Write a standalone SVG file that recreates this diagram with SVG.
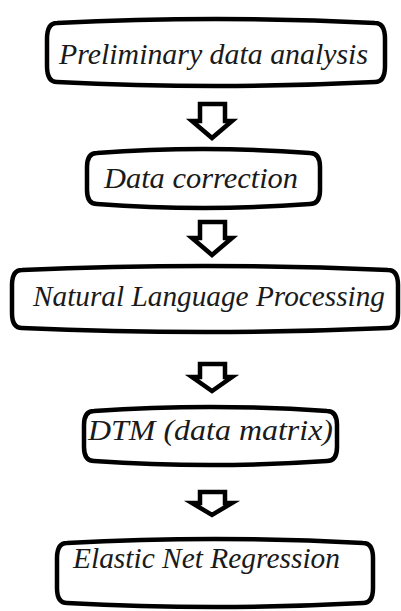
<svg xmlns="http://www.w3.org/2000/svg" width="401" height="611" viewBox="0 0 401 611">
  <style>
    .box { fill: #ffffff; stroke: #000000; stroke-width: 4.5; stroke-linejoin: round; }
    .arrow { fill: #ffffff; stroke: #000000; stroke-width: 4.5; stroke-linejoin: miter; }
    .label { font-family: "Liberation Serif", "Times New Roman", serif; font-style: italic; font-size: 29px; fill: #1a1a1a; }
  </style>
  <rect width="401" height="611" fill="#ffffff"/>

  <!-- flow steps: rounded boxes with slightly bowed top/bottom edges -->
  <g id="step-preliminary">
    <path class="box" d="M47,39 Q47,23 57,23 Q216,15 375,23 Q385,23 385,39 L385,66 Q385,82 375,82 Q216,90 57,82 Q47,82 47,66 Z"/>
    <text class="label" x="59" y="64" textLength="309" lengthAdjust="spacingAndGlyphs">Preliminary data analysis</text>
  </g>

  <g id="step-correction">
    <path class="box" d="M87,167 Q87,153 97,153 Q203,145 310,153 Q320,153 320,167 L320,190 Q320,204 310,204 Q203,212 97,204 Q87,204 87,190 Z"/>
    <text class="label" x="104" y="188" textLength="194" lengthAdjust="spacingAndGlyphs">Data correction</text>
  </g>

  <g id="step-nlp">
    <path class="box" d="M12,285 Q12,270 22,270 Q205,262 388,270 Q398,270 398,285 L398,313 Q398,328 388,328 Q205,336 22,328 Q12,328 12,313 Z"/>
    <text class="label" x="33" y="306" textLength="352" lengthAdjust="spacingAndGlyphs">Natural Language Processing</text>
  </g>

  <g id="step-dtm">
    <path class="box" d="M84,425 Q84,411 94,411 Q210,403 327,411 Q337,411 337,425 L337,447 Q337,461 327,461 Q210,469 94,461 Q84,461 84,447 Z"/>
    <text class="label" x="88" y="440" textLength="245" lengthAdjust="spacingAndGlyphs">DTM (data matrix)</text>
  </g>

  <g id="step-elastic-net">
    <path class="box" d="M57,558 Q57,543 67,543 Q215,535 363,543 Q373,543 373,558 L373,588 Q373,603 363,603 Q215,611 67,603 Q57,603 57,588 Z"/>
    <text class="label" x="73" y="568" textLength="267" lengthAdjust="spacingAndGlyphs">Elastic Net Regression</text>
  </g>

  <!-- hollow block arrows between steps -->
  <g id="connectors">
    <path class="arrow" d="M200,104 L225,104 L225,121 L232,121 L212,138 L192,121 L200,121 Z"/>
    <path class="arrow" d="M200,222 L225,222 L225,238 L232,238 L212,255 L192,238 L200,238 Z"/>
    <path class="arrow" d="M200,364 L225,364 L225,377 L232,377 L212,391 L192,377 L200,377 Z"/>
    <path class="arrow" d="M200,492 L225,492 L225,503 L232,503 L212,515 L192,503 L200,503 Z"/>
  </g>
</svg>
